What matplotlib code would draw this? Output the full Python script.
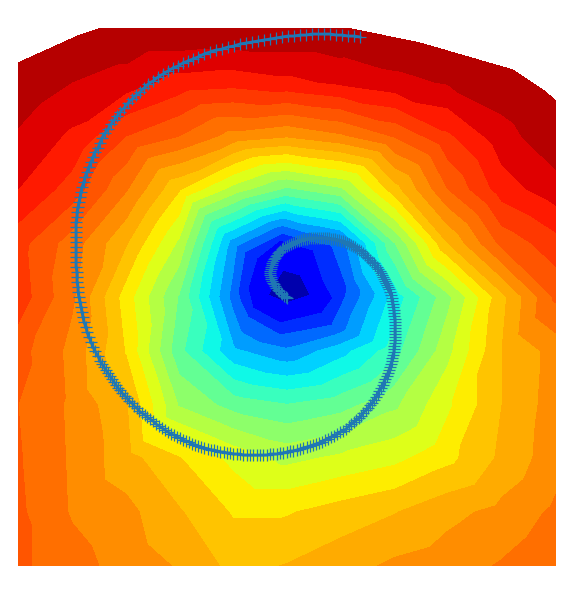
import numpy as np
from matplotlib import pyplot as plt
from matplotlib.tri import Triangulation

# field, on a coarse grid (image pixel coordinates)
grid_x = [18, 72, 126, 179, 233, 287, 341, 395, 448, 502, 556]
grid_y = [28, 82, 136, 189, 243, 297, 351, 405, 458, 512, 566]
nan = float('nan')
grid_z = [
    [nan, nan, 22.0, 22.0, 22.0, 22.0, 22.0, nan, nan, nan, nan],
    [21.8, 21.0, 20.5, 19.6, 19.4, 19.75, 20.2, 20.7, 21.1, 21.6, nan],
    [20.85, 19.8, 18.0, 17.0, 15.6, 15.1, 15.8, 17.1, 18.8, 20.6, 21.7],
    [20.0, 18.55, 16.1, 13.1, 10.6, 8.8, 9.8, 13.6, 17.0, 19.5, 20.6],
    [18.4, 16.5, 14.1, 10.8, 4.5, 1.9, 3.5, 9.0, 14.0, 17.3, 18.6],
    [18.6, 16.15, 12.5, 8.9, 3.6, 0.5, 2.7, 6.4, 9.7, 13.7, 17.2],
    [17.4, 15.7, 12.9, 8.3, 5.2, 4.2, 5.6, 7.6, 10.7, 14.0, 15.4],
    [17.0, 15.8, 14.1, 9.9, 8.6, 8.05, 8.6, 9.8, 11.8, 14.0, 15.5],
    [17.1, 15.85, 14.4, 13.05, 11.7, 10.7, 11.2, 11.7, 12.7, 14.2, 15.6],
    [17.2, 15.9, 15.3, 14.1, 12.9, 12.9, 13.45, 13.95, 14.7, 15.3, 16.2],
    [17.2, 16.4, 15.6, 14.9, 13.7, 14.05, 14.6, 15.2, 15.55, 16.1, 16.8],
]

# points on the cut off upper edge
edge_x = [18, 80, 102, 347, 420, 513, 543, 556]
edge_y = [63, 35, 28, 28, 43, 70, 90, 101]
edge_z = [22.0, 22.0, 22.0, 21.9, 21.8, 22.0, 22.0, 22.0]

# extra points around the low in the middle
low_x = [268, 283, 300, 310, 287, 248, 257, 280, 313, 333, 322, 280, 253, 238, 245, 282, 347, 332, 280, 248]
low_y = [295, 270, 275, 295, 303, 288, 258, 240, 250, 298, 313, 323, 308, 292, 252, 233, 287, 325, 335, 317]
low_z = [1, 1, 1, 1, 1, 2, 2, 2, 2, 2, 2, 2, 2, 3, 3, 3, 3, 3, 3, 3]

# where on the jet map each band sits
band_pos = [0.04, 0.11, 0.17, 0.23, 0.28, 0.33, 0.37, 0.42, 0.47, 0.52, 0.57, 0.62, 0.66, 0.70, 0.73, 0.76,
            0.79, 0.82, 0.85, 0.88, 0.915, 0.95]

track_x = [360, 354, 348, 342, 336, 330, 324, 318, 312, 306, 300, 294, 288, 282, 276, 270, 264, 258, 252, 246,
           240, 234, 228, 222, 216, 210, 204, 198, 193, 188, 183, 178, 173, 168, 163, 158, 153, 148, 144, 140,
           136, 132, 128, 124, 120, 117, 114, 111, 108, 105, 102, 100, 98, 95, 93, 91, 89, 87, 85, 84,
           82, 81, 80, 79, 78, 77, 77, 76, 76, 76, 76, 76, 76, 76, 76, 76, 76, 77, 77, 77,
           78, 78, 79, 80, 81, 82, 83, 84, 86, 87, 89, 91, 93, 95, 98,
           100, 102, 104, 106, 108, 110, 112, 114, 116, 118, 120, 122, 125, 127, 129, 132, 134, 137, 139, 142,
           145, 147, 150, 153, 156, 159, 162, 165, 168, 171, 174, 177, 180, 183, 186, 189, 192, 195, 198, 201,
           204, 208, 211, 214, 217, 220, 224, 227, 230, 233, 237, 240, 243, 247, 250, 253, 257, 260, 263, 267,
           270, 273, 277, 280, 283, 287, 290, 293, 297, 300, 303, 307, 310, 313, 316, 319, 322, 325, 328, 331,
           334, 337, 340, 343, 346, 349, 351, 354, 356, 359, 361, 363, 366, 368, 370, 372, 374, 376, 378, 379,
           381, 383, 384, 385, 387, 388, 389, 390, 391, 392, 392, 393, 394, 394, 394, 395, 395, 395, 395, 395,
           395, 395, 395, 395, 394, 394, 394, 393, 393, 392, 392, 391, 390, 389, 388, 387, 386, 385, 384, 383,
           382, 381, 380, 378, 377, 375, 374, 372, 370, 368, 367, 365, 363, 361, 359, 357, 355, 353, 351, 349,
           347, 345, 343, 341, 339, 337, 335, 333, 331, 329, 327, 325, 323, 321, 319, 317, 315, 313, 311, 309,
           307, 305, 303, 301, 299, 297, 295, 293, 291, 289, 287, 285, 283, 282, 280, 279, 278, 277, 276, 275,
           274, 273, 272, 272, 271, 271, 270, 270, 270, 271, 271, 272, 273, 274, 275, 276, 278, 279, 281, 282,
           284, 286, 287]
track_y = [37, 36, 36, 35, 35, 34, 34, 34, 34, 35, 35, 36, 36, 37, 38, 39, 40, 41, 42, 43,
           44, 46, 47, 49, 50, 52, 54, 57, 59, 61, 63, 66, 68, 71, 74, 77, 81, 84, 88, 92,
           95, 99, 103, 108, 112, 116, 120, 124, 129, 133, 138, 143, 148, 152, 157, 162, 167, 172, 177, 182,
           187, 192, 197, 202, 207, 212, 217, 222, 227, 232, 237, 242, 247, 252, 257, 262, 267, 272, 277, 282,
           287, 292, 297, 302, 307, 312, 317, 322, 327, 332, 337, 342, 347, 351, 356,
           361, 364, 367, 370, 373, 376, 379, 382, 385, 388, 390, 393, 396, 398, 401, 403, 406, 408, 411, 413,
           415, 417, 419, 421, 424, 426, 428, 430, 432, 434, 435, 437, 438, 440, 441, 442, 444, 445, 446, 447,
           448, 449, 450, 450, 451, 452, 452, 453, 453, 454, 454, 454, 455, 455, 455, 455, 455, 455, 455, 455,
           454, 454, 454, 453, 453, 452, 451, 451, 450, 449, 448, 447, 446, 445, 444, 443, 442, 440, 439, 437,
           436, 434, 432, 431, 429, 426, 424, 422, 420, 418, 416, 413, 410, 408, 405, 403, 400, 397, 394, 391,
           388, 385, 382, 379, 376, 373, 370, 367, 364, 361, 358, 355, 352, 349, 346, 343, 340, 337, 334, 331,
           328, 325, 322, 319, 316, 313, 310, 307, 304, 301, 298, 295, 292, 289, 287, 285, 283, 281, 279, 277,
           275, 273, 271, 269, 267, 265, 263, 262, 260, 258, 257, 255, 253, 251, 250, 249, 247, 246, 245, 244,
           243, 242, 241, 241, 240, 240, 239, 239, 239, 238, 238, 238, 238, 238, 238, 238, 238, 238, 238, 238,
           239, 239, 239, 240, 241, 241, 242, 243, 244, 245, 246, 247, 248, 249, 251, 252, 253, 255, 256, 258,
           259, 261, 263, 265, 267, 269, 271, 273, 275, 277, 279, 281, 283, 284, 286, 288, 290, 291, 293, 294,
           296, 297, 298]

gx, gy = np.meshgrid(grid_x, grid_y)
gz = np.array(grid_z)
keep = ~np.isnan(gz)
x = np.concatenate([gx[keep], edge_x, low_x])
y = np.concatenate([gy[keep], edge_y, low_y])
z = np.concatenate([gz[keep], edge_z, low_z])

fig = plt.figure(figsize=(5.79, 5.95), dpi=100)
ax = fig.add_axes([18 / 579, 29 / 595, 538 / 579, 538 / 595])

levels = np.arange(0, len(band_pos) + 1)
ax.tricontourf(Triangulation(x, y), z, levels=levels, colors=[plt.cm.jet(p) for p in band_pos])
ax.plot(track_x, track_y, '-+', color='#1f77b4', markersize=8, linewidth=2, markeredgewidth=0.9, clip_on=False)

ax.set_xlim(18, 556)
ax.set_ylim(566, 28)
ax.axis('off')

fig.savefig('out.png', dpi=100)
